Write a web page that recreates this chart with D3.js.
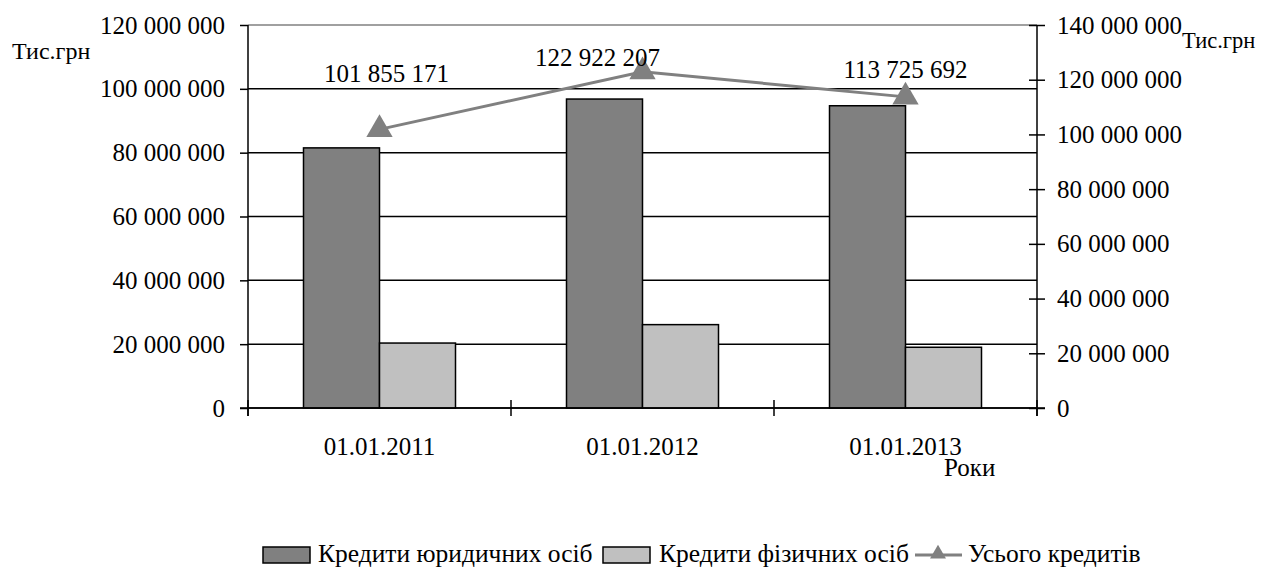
<!DOCTYPE html>
<html>
<head>
<meta charset="utf-8">
<script src="https://cdn.jsdelivr.net/npm/d3@7"></script>
</head>
<body style="margin:0; background:#fff">
<svg width="1266" height="567"></svg>
<script>
// data
var years = ['01.01.2011', '01.01.2012', '01.01.2013'];
var legal = [81500000, 96800000, 94700000];
var personal = [20350000, 26120000, 19030000];
var total = [101855171, 122922207, 113725692];
var leftTicks = [0, 20000000, 40000000, 60000000, 80000000, 100000000, 120000000];
var rightTicks = [0, 20000000, 40000000, 60000000, 80000000, 100000000, 120000000, 140000000];
var seriesNames = ['Кредити юридичних осіб', 'Кредити фізичних осіб', 'Усього кредитів'];

let svg = d3.select('svg');
let pLeft = 248, pRight = 1037, pTop = 25, pBottom = 408;
let ff = "'Liberation Serif'";
let fs = '25px';
let fmt = v => d3.format(',')(v).replace(/,/g, ' ');
let font = (sel, size) => sel.style('font-family', ff).style('font-size', size || fs).attr('fill', '#000');

let xScale = d3.scaleBand().domain(years).range([pLeft, pRight]);
let inner = d3.scaleBand().domain([0, 1]).range([0, 152]);
let yLeft = d3.scaleLinear().domain([0, 120000000]).range([pBottom, pTop]);
let yRight = d3.scaleLinear().domain([0, 140000000]).range([pBottom, pTop]);

// gridlines
svg.append('g').selectAll('line')
    .data(leftTicks)
    .enter()
    .append('line')
    .attr('x1', pLeft).attr('x2', pRight)
    .attr('y1', d => yLeft(d)).attr('y2', d => yLeft(d))
    .attr('stroke', (d, i) => i == leftTicks.length - 1 ? '#808080' : '#000')
    .attr('stroke-width', 1.5);

// bars
let groups = svg.append('g').selectAll('g')
    .data(years)
    .enter()
    .append('g')
    .attr('transform', d => 'translate(' + (xScale(d) + xScale.bandwidth() / 2 - 76) + ',0)');
groups.append('rect')
    .attr('x', inner(0)).attr('width', inner.bandwidth())
    .attr('y', (d, i) => yLeft(legal[i]))
    .attr('height', (d, i) => pBottom - yLeft(legal[i]))
    .attr('fill', '#808080').attr('stroke', '#000').attr('stroke-width', 1.5);
groups.append('rect')
    .attr('x', inner(1)).attr('width', inner.bandwidth())
    .attr('y', (d, i) => yLeft(personal[i]))
    .attr('height', (d, i) => pBottom - yLeft(personal[i]))
    .attr('fill', '#c0c0c0').attr('stroke', '#000').attr('stroke-width', 1.5);

// left axis
let yAxis = d3.axisLeft(yLeft).tickValues(leftTicks).tickSize(8).tickPadding(15).tickFormat(fmt);
let gL = svg.append('g').attr('transform', 'translate(' + pLeft + ',0)').call(yAxis);
gL.select('.domain').attr('d', 'M0,' + pTop + 'V' + (pBottom + 8)).attr('stroke', '#000').attr('stroke-width', 1.5);
gL.selectAll('line').attr('stroke-width', 1.5);
font(gL.selectAll('text'));

// right axis
let yAxisR = d3.axisRight(yRight).tickValues(rightTicks).tickSize(8).tickPadding(12).tickFormat(fmt);
let gR = svg.append('g').attr('transform', 'translate(' + pRight + ',0)').call(yAxisR);
gR.select('.domain').attr('d', 'M0,' + pTop + 'V' + (pBottom + 8)).attr('stroke', '#000').attr('stroke-width', 1.5);
gR.selectAll('.tick line').attr('x1', -8).attr('stroke-width', 1.5);
font(gR.selectAll('text'));

// bottom axis
let xAxis = d3.axisBottom(xScale).tickSize(0).tickPadding(29);
let gB = svg.append('g').attr('transform', 'translate(0,' + pBottom + ')').call(xAxis);
gB.select('.domain').attr('d', 'M' + (pLeft - 8) + ',0H' + (pRight + 8)).attr('stroke', '#000').attr('stroke-width', 1.5);
font(gB.selectAll('text'));
gB.selectAll('.edge')
    .data(years.concat(['end']))
    .enter()
    .append('line')
    .attr('x1', (d, i) => pLeft + i * xScale.step())
    .attr('x2', (d, i) => pLeft + i * xScale.step())
    .attr('y1', -8).attr('y2', 8)
    .attr('stroke', '#000').attr('stroke-width', 1.5);

// total line
let cx = d => xScale(d) + xScale.bandwidth() / 2;
let line = d3.line().x((d, i) => cx(years[i])).y(d => yRight(d));
svg.append('path')
    .datum(total)
    .attr('d', line)
    .attr('fill', 'none').attr('stroke', '#808080').attr('stroke-width', 3);
let tri = d3.symbol().type(d3.symbolTriangle).size(300);
svg.append('g').selectAll('path')
    .data(total)
    .enter()
    .append('path')
    .attr('d', tri)
    .attr('transform', (d, i) => 'translate(' + cx(years[i]) + ',' + yRight(d) + ')')
    .attr('fill', '#808080');
// labels were nudged by hand in the original
font(svg.append('g').selectAll('text')
    .data(total)
    .enter()
    .append('text')
    .attr('x', (d, i) => cx(years[i]) + (i == 1 ? -45 : i == 0 ? 7 : 0))
    .attr('y', (d, i) => yRight(d) - (i == 1 ? 6 : i == 0 ? 47 : 19))
    .attr('text-anchor', 'middle')
    .text(fmt));

// axis titles
font(svg.append('text').attr('x', 12).attr('y', 59).text('Тис.грн'), '24px');
font(svg.append('text').attr('x', 1182).attr('y', 48).text('Тис.грн'), '22.5px');
font(svg.append('text').attr('x', 944).attr('y', 476).text('Роки'));

// legend
let legend = svg.append('g').attr('transform', 'translate(0,555)');
let legItems = [{x: 263, tx: 318, kind: 0}, {x: 603, tx: 659, kind: 1}, {x: 915, tx: 968, kind: 2}];
legItems.forEach((it, i) => {
    let g = legend.append('g');
    if (it.kind < 2) {
        g.append('rect').attr('x', it.x).attr('y', -8).attr('width', 47).attr('height', 16)
            .attr('fill', it.kind == 0 ? '#808080' : '#c0c0c0').attr('stroke', '#000').attr('stroke-width', 1.5);
    } else {
        g.append('line').attr('x1', it.x).attr('x2', it.x + 47).attr('y1', 0).attr('y2', 0)
            .attr('stroke', '#808080').attr('stroke-width', 3);
        g.append('path').attr('d', d3.symbol().type(d3.symbolTriangle).size(110))
            .attr('transform', 'translate(' + (it.x + 23) + ',-1)').attr('fill', '#808080');
    }
    font(g.append('text').attr('x', it.tx).attr('y', 7)
        .text(seriesNames[i]), '25.5px');
});
</script>
</body>
</html>
